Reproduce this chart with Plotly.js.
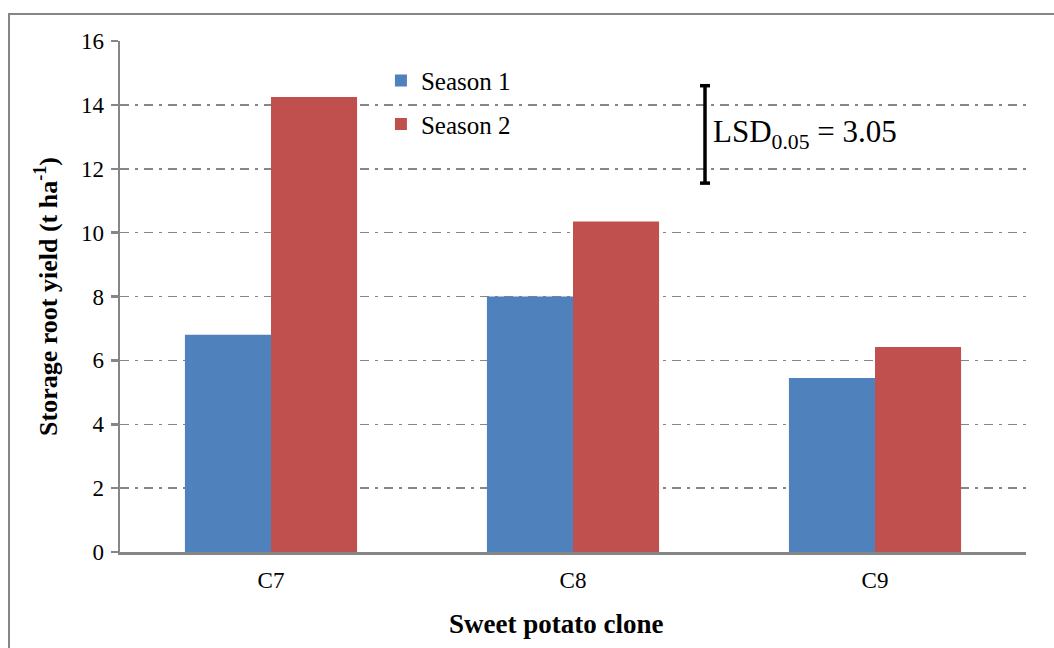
<!DOCTYPE html>
<html>
<head>
<meta charset="utf-8">
<script src="https://cdn.plot.ly/plotly-3.0.1.min.js"></script>
<style>html,body{margin:0;padding:0;background:#fff;}#chart{width:1054px;height:648px;}</style>
</head>
<body>
<div id="chart"></div>
<script>
var categories = ["C7", "C8", "C9"];
var season1 = [6.8, 8.0, 5.45];
var season2 = [14.25, 10.35, 6.42];
var seriesNames = ["Season 1", "Season 2"];
var yTicks = [0, 2, 4, 6, 8, 10, 12, 14, 16];
var lsdValue = 3.05;
var lsdBase = 11.55;
var lsdLabel = "LSD<sub>0.05</sub> = 3.05";
var xTitle = "<b>Sweet potato clone</b>";
var yTitle = "<b>Storage root yield (t ha<sup>-1</sup>)</b>";

var font = "'Times New Roman', 'Liberation Serif', 'DejaVu Serif', serif";
var gray = "#868686";

var traces = [
  {type: "bar", x: categories, y: season1, name: seriesNames[0], marker: {color: "#4f81bd"}, legendgroup: "a"},
  {type: "bar", x: categories, y: season2, name: seriesNames[1], marker: {color: "#c0504d"}, legendgroup: "b"}
];

var layout = {
  width: 1054, height: 648,
  margin: {l: 120, r: 28, t: 41, b: 96},
  paper_bgcolor: "#fff", plot_bgcolor: "#fff",
  font: {family: font, size: 23, color: "#000"},
  barmode: "group", bargap: 0.43, bargroupgap: 0,
  showlegend: true,
  legend: {x: 0.288, y: 0.967, xanchor: "left", yanchor: "top", bgcolor: "rgba(0,0,0,0)",
           font: {family: font, size: 25, color: "#000"}, tracegroupgap: 8, traceorder: "grouped"},
  xaxis: {showline: true, linecolor: gray, linewidth: 2.5, ticks: "", showgrid: false,
          tickfont: {family: font, size: 23, color: "#000"}, zeroline: false, ticklabelstandoff: 6},
  yaxis: {range: [0, 16], tickvals: yTicks, showline: true, linecolor: gray, linewidth: 2.5,
          ticks: "outside", ticklen: 7, tickcolor: gray, tickwidth: 2.5,
          showgrid: true, gridcolor: gray, gridwidth: 1.5, griddash: "9px,6px,3px,6px",
          zeroline: false, tickfont: {family: font, size: 23, color: "#000"}, ticklabelstandoff: 2,
          title: {text: yTitle, font: {family: font, size: 26, color: "#000"}, standoff: 16}},
  shapes: [
    {type: "rect", xref: "paper", yref: "paper", x0: -0.1225, x1: 1.05, y0: -0.2, y1: 1.0528,
     line: {color: gray, width: 2}, fillcolor: "rgba(0,0,0,0)", layer: "below"},
    {type: "line", xref: "paper", yref: "y", x0: 0.6457, x1: 0.6457, y0: lsdBase, y1: lsdBase + lsdValue,
     line: {color: "#000", width: 3.5}},
    {type: "line", xref: "paper", yref: "y", x0: 0.6402, x1: 0.6512, y0: lsdBase, y1: lsdBase,
     line: {color: "#000", width: 3.5}},
    {type: "line", xref: "paper", yref: "y", x0: 0.6402, x1: 0.6512, y0: lsdBase + lsdValue, y1: lsdBase + lsdValue,
     line: {color: "#000", width: 3.5}}
  ],
  annotations: [
    {xref: "paper", yref: "y", x: 0.652, y: lsdBase + lsdValue / 2, xanchor: "left", yanchor: "middle",
     text: lsdLabel, showarrow: false, font: {family: font, size: 31, color: "#000"}},
    {xref: "paper", yref: "paper", x: 0.481, y: -0.141, xanchor: "center", yanchor: "middle",
     text: xTitle, showarrow: false, font: {family: font, size: 27, color: "#000"}}
  ]
};

Plotly.newPlot("chart", traces, layout, {displayModeBar: false, staticPlot: true});
</script>
</body>
</html>
